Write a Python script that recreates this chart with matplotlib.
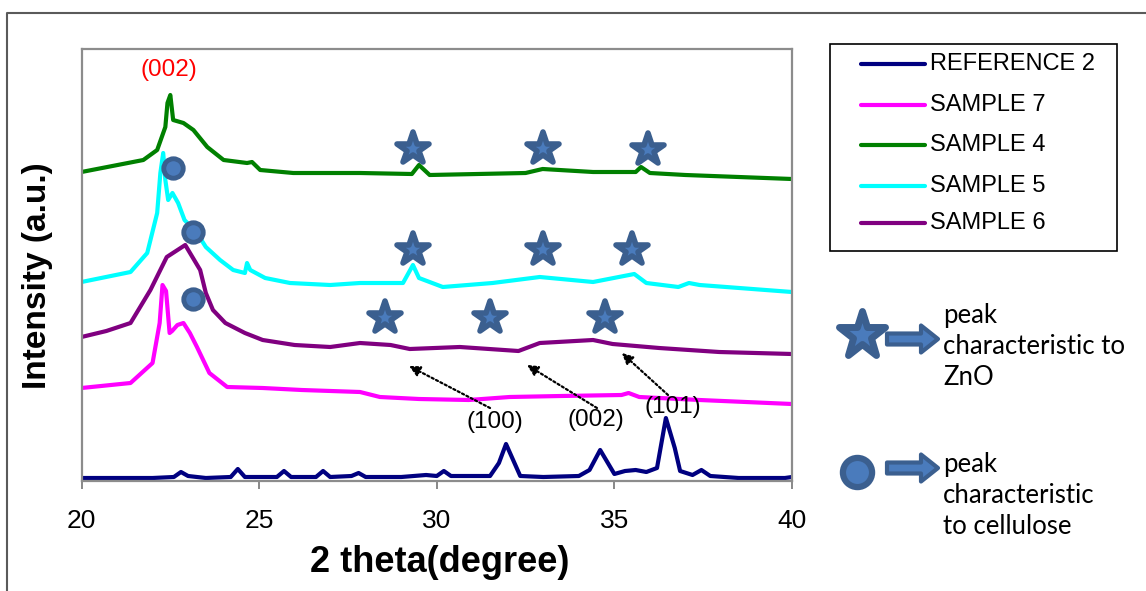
import matplotlib
matplotlib.use('Agg')
import matplotlib.pyplot as plt
from matplotlib.lines import Line2D
from matplotlib.patches import Rectangle, FancyArrow
from matplotlib.markers import MarkerStyle
from matplotlib.transforms import IdentityTransform

# ---------------- data (2 theta in degrees, intensity in a.u.) ----------------
ref2_x = [20.0, 21.0, 22.0, 22.6, 22.8, 23.0, 23.5, 24.2, 24.4, 24.6, 25.5, 25.7, 25.9,
          26.6, 26.8, 27.0, 27.6, 27.8, 28.0, 29.0, 29.7, 30.0, 30.2, 30.4, 31.0, 31.5,
          31.75, 31.95, 32.15, 32.35, 33.0, 34.0, 34.3, 34.6, 34.85, 35.0, 35.3, 35.6,
          35.9, 36.2, 36.45, 36.7, 36.85, 37.2, 37.45, 37.7, 38.5, 39.0, 39.8, 40.0]
ref2_y = [3, 3, 3, 4, 9, 5, 3, 4, 12, 4, 4, 10, 4,
          4, 10, 4, 5, 8, 4, 4, 6, 5, 10, 5, 5, 5,
          18, 37, 21, 5, 4, 5, 11, 31, 16, 7, 10, 11,
          9, 13, 63, 33, 10, 6, 11, 5, 3, 3, 3, 4]

s7_x = [20.0, 21.38, 22.0, 22.2, 22.28, 22.38, 22.48, 22.55, 22.7, 22.87, 23.05, 23.25,
        23.6, 24.1, 25.1, 26.2, 27.84, 28.4, 29.5, 30.9, 32.05, 33.5, 35.2, 35.4, 35.7,
        37.4, 40.0]
s7_y = [93, 98, 118, 158, 196, 190, 148, 150, 156, 158, 148, 134,
        108, 94, 93, 91, 89, 84, 82, 81, 84, 85, 86, 88, 84,
        81, 77]

s6_x = [20.0, 20.7, 21.38, 21.94, 22.4, 22.92, 23.34, 23.5, 23.7, 24.05, 24.6, 25.1, 26.0,
        27.0, 27.84, 28.7, 29.24, 30.65, 32.3, 32.9, 34.4, 34.95, 36.26, 37.95, 40.0]
s6_y = [144, 150, 158, 191, 224, 236, 211, 188, 171, 158, 148, 141, 136,
        134, 138, 136, 132, 134, 130, 138, 141, 137, 133, 129, 127]

s5_x = [20.0, 21.38, 21.85, 22.13, 22.22, 22.3, 22.36, 22.44, 22.56, 22.72, 22.9, 23.25,
        23.5, 23.9, 24.27, 24.6, 24.66, 24.75, 25.17, 25.87, 27.0, 27.84, 29.05, 29.33,
        29.5, 30.17, 31.57, 32.9, 34.4, 35.56, 35.9, 36.8, 37.1, 37.4, 40.0]
s5_y = [199, 209, 228, 268, 308, 328, 301, 281, 288, 278, 261, 248,
        234, 221, 211, 208, 218, 211, 203, 198, 196, 198, 198, 216,
        203, 194, 198, 204, 199, 207, 198, 194, 198, 196, 189]

s4_x = [20.0, 21.74, 22.13, 22.36, 22.42, 22.5, 22.58, 22.87, 23.15, 23.54, 24.0, 24.66,
        24.8, 25.03, 25.96, 27.84, 29.3, 29.5, 29.8, 32.5, 32.98, 34.4, 35.6, 35.75, 36.0,
        37.0, 40.0]
s4_y = [309, 321, 331, 354, 378, 386, 361, 358, 351, 334, 321, 318,
        319, 311, 308, 308, 307, 316, 306, 308, 312, 309, 309, 314, 308,
        306, 302]

series_names = ['REFERENCE 2', 'SAMPLE 7', 'SAMPLE 4', 'SAMPLE 5', 'SAMPLE 6']
series_colors = ['#000080', '#FF00FF', '#008000', '#00FFFF', '#800080']

# ZnO peak markers (stars) and cellulose peak markers (circles)
zno_x = [29.33, 33.0, 35.96, 29.33, 33.0, 35.5, 28.54, 31.49, 34.75]
zno_y = [332, 332, 331, 231, 231, 231, 163, 163, 163]
cell_x = [22.58, 23.15, 23.15]
cell_y = [313, 249, 182]

# hkl annotations: label, text pos, arrow tail, arrow head
hkl_labels = ['(100)', '(002)', '(101)']
hkl_text_x = [31.64, 34.48, 36.65]
hkl_text_y = [59, 61, 74]
hkl_tail_x = [31.50, 34.51, 36.51]
hkl_tail_y = [73, 73, 86]
hkl_head_x = [29.22, 32.54, 35.21]
hkl_head_y = [115, 116, 128]

xticks = [20, 25, 30, 35, 40]

# ---------------- figure ----------------
W, H = 1146, 591
fig = plt.figure(figsize=(W / 100, H / 100), dpi=100)
fig.patch.set_facecolor('white')

ax_l, ax_r, ax_t, ax_b = 81.5, 792.0, 49.0, 481.0
ax = fig.add_axes([ax_l / W, 1 - ax_b / H, (ax_r - ax_l) / W, (ax_b - ax_t) / H])

data = [(ref2_x, ref2_y), (s7_x, s7_y), (s4_x, s4_y), (s5_x, s5_y), (s6_x, s6_y)]
order = [1, 0, 4, 3, 2]  # drawing order
for i in order:
    x, y = data[i]
    ax.plot(x, y, color=series_colors[i], lw=3.0, solid_joinstyle='round',
            solid_capstyle='round', zorder=2 + i * 0.1)

star = MarkerStyle('*', joinstyle='round')
mk_face, mk_edge = '#4a7bbc', '#3b5f8f'
ax.plot(zno_x, zno_y, ls='none', marker=star, ms=24, mfc=mk_face, mec=mk_edge,
        mew=4.0, zorder=5)
ax.plot(cell_x, cell_y, ls='none', marker='o', ms=14, mfc=mk_face, mec=mk_edge,
        mew=3.5, zorder=5)

ax.set_xlim(20, 40)
ax.set_ylim(0, ax_b - ax_t)
ax.set_xticks(xticks)
ax.set_xticklabels([str(t) for t in xticks], fontfamily='Liberation Sans', fontsize=19)
ax.set_yticks([])
ax.tick_params(axis='x', direction='out', length=6, width=1.3, color='#7f7f7f',
               pad=14)
for sp in ax.spines.values():
    sp.set_color('#8c8c8c')
    sp.set_linewidth(1.6)

ax.set_xlabel('2 theta(degree)', fontfamily='Liberation Sans', fontweight='bold',
              fontsize=26)
ax.xaxis.set_label_coords((440 - ax_l) / (ax_r - ax_l), (ax_b - 562) / (ax_b - ax_t))
ax.xaxis.label.set_verticalalignment('center')
ax.set_ylabel('Intensity (a.u.)', fontfamily='Liberation Sans', fontweight='bold',
              fontsize=24)
ax.yaxis.set_label_coords((38 - ax_l) / (ax_r - ax_l), (ax_b - 276) / (ax_b - ax_t))
ax.yaxis.label.set_verticalalignment('center')

ax.text(22.45, 411, '(002)', color='red', fontsize=17.5, fontfamily='Liberation Sans',
        ha='center', va='center')

for lab, tx, ty, ax0, ay0, hx, hy in zip(hkl_labels, hkl_text_x, hkl_text_y,
                                         hkl_tail_x, hkl_tail_y, hkl_head_x, hkl_head_y):
    ax.annotate('', xy=(hx, hy), xytext=(ax0, ay0),
                arrowprops=dict(arrowstyle='-|>', linestyle=(0, (1, 1.2)), lw=1.6,
                                color='black', mutation_scale=16, shrinkA=0, shrinkB=0))
    ax.text(tx, ty, lab, fontsize=17.5, fontfamily='Liberation Sans', ha='center',
            va='center', color='black', zorder=6)

# ---------------- outer frame ----------------
tr = IdentityTransform()
fig.add_artist(Line2D([7, 7, W + 10], [-10, H - 13, H - 13], transform=tr,
                      color='#5a5a5a', lw=1.5))

# ---------------- legend box (drawn manually) ----------------
fig.add_artist(Rectangle((830, H - 251), 287, 207, transform=tr, fill=False,
                         edgecolor='black', lw=1.2))
leg_y = [64, 105, 145, 186, 223]
for name, col, yy in zip(series_names, series_colors, leg_y):
    fig.add_artist(Line2D([861, 925], [H - yy, H - yy], transform=tr, color=col,
                          lw=3, solid_capstyle='round'))
    fig.text(930 / W, 1 - yy / H, name, fontsize=17, fontfamily='Liberation Sans',
             va='center', ha='left')

# ---------------- symbol key ----------------
fig.add_artist(Line2D([862], [H - 335], transform=tr, ls='none', marker=star, ms=35,
                      mfc=mk_face, mec=mk_edge, mew=5))
fig.add_artist(Line2D([857], [H - 472], transform=tr, ls='none', marker='o', ms=21,
                      mfc=mk_face, mec=mk_edge, mew=4.5))
for yy in [339, 468]:
    fig.add_artist(FancyArrow(887, H - yy, 34, 0, width=11, head_width=27,
                              head_length=17, length_includes_head=False,
                              transform=tr, fc=mk_face, ec=mk_edge, lw=3,
                              joinstyle='round'))
fig.text(943 / W, 1 - 303 / H, 'peak\ncharacteristic to\nZnO', fontfamily='Lato',
         fontsize=18.5, va='top', ha='left', linespacing=1.3)
fig.text(943 / W, 1 - 452 / H, 'peak\ncharacteristic\nto cellulose', fontfamily='Lato',
         fontsize=18.5, va='top', ha='left', linespacing=1.3)

fig.savefig('out.png', dpi=100, facecolor='white')
